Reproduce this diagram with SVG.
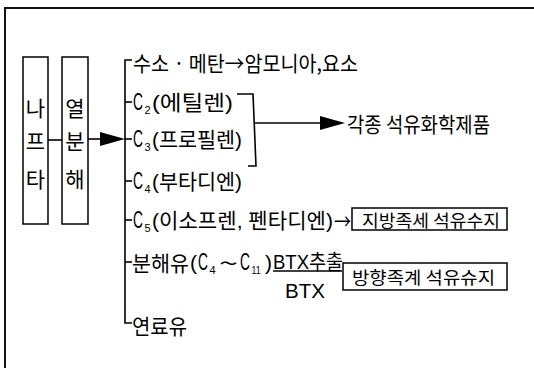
<svg xmlns="http://www.w3.org/2000/svg" width="534" height="368" viewBox="0 0 534 368">
<style>
.ln{stroke:#000;stroke-width:1.6;fill:none}
.fr{stroke:#111;stroke-width:2;fill:none}
.bx{stroke:#000;stroke-width:1.5;fill:#fff}
text{font-family:"Liberation Sans","Noto Sans CJK KR",sans-serif;fill:#000;dominant-baseline:central}
.k{font-family:"Noto Sans CJK KR",sans-serif}
.t{font-size:21px}
.cc{font-size:23px}
.s{font-size:17px}
.sub{font-size:11px}
.c{text-anchor:middle}
</style>
<rect width="534" height="368" fill="#fff"/>
<g id="frame">
<path class="fr" d="M5,368 V8 H534"/>
</g>
<g id="node-napta">
<rect class="bx" x="23" y="57" width="25" height="167"/>
<text class="t k c" x="35.5" y="107">나</text>
<text class="t k c" x="35.5" y="140">프</text>
<text class="t k c" x="35.5" y="178">타</text>
</g>
<g id="node-cracking">
<rect class="bx" x="62" y="57" width="26" height="167"/>
<text class="t k c" x="75" y="107">열</text>
<text class="t k c" x="75" y="140">분</text>
<text class="t k c" x="75" y="178">해</text>
</g>
<g id="connectors">
<line class="ln" x1="48" y1="140" x2="62" y2="140"/>
<line class="ln" x1="88" y1="139" x2="102" y2="139"/>
<path d="M100,132 L125,139 L100,146 Z" fill="#000"/>
<path class="ln" d="M132,60 H125 V323 H132"/>
<line class="ln" x1="125" y1="102" x2="132" y2="102"/>
<line class="ln" x1="125" y1="139" x2="132" y2="139"/>
<line class="ln" x1="125" y1="181" x2="132" y2="181"/>
<line class="ln" x1="125" y1="220" x2="132" y2="220"/>
<line class="ln" x1="125" y1="262" x2="132" y2="262"/>
<path class="ln" d="M237,94 H253 L256,166 H248"/>
<line class="ln" x1="255" y1="123" x2="322" y2="123"/>
<path d="M320,116 L345,123 L320,130 Z" fill="#000"/>
<line class="ln" x1="273" y1="271" x2="342" y2="271"/>
</g>
<g id="node-h2">
<text class="t k" x="133" y="62" textLength="225" lengthAdjust="spacingAndGlyphs">수소 · 메탄→암모니아,요소</text>
</g>
<g id="node-c2">
<text class="cc" transform="translate(133 102) scale(0.6 1)">C</text>
<text class="sub" x="144.5" y="110">2</text>
<text class="t" x="152" y="102" textLength="81" lengthAdjust="spacingAndGlyphs">(에틸렌)</text>
</g>
<g id="node-c3">
<text class="cc" transform="translate(133 139) scale(0.6 1)">C</text>
<text class="sub" x="144.5" y="147">3</text>
<text class="t" x="152" y="139" textLength="90" lengthAdjust="spacingAndGlyphs">(프로필렌)</text>
</g>
<g id="node-c4">
<text class="cc" transform="translate(133 181) scale(0.6 1)">C</text>
<text class="sub" x="144.5" y="189">4</text>
<text class="t" x="152" y="181" textLength="90" lengthAdjust="spacingAndGlyphs">(부타디엔)</text>
</g>
<g id="node-c5">
<text class="cc" transform="translate(133 220) scale(0.6 1)">C</text>
<text class="sub" x="144.5" y="228">5</text>
<text class="t" x="152" y="220" textLength="181" lengthAdjust="spacingAndGlyphs">(이소프렌, 펜타디엔)</text>
<text class="t k" x="334" y="220" textLength="17" lengthAdjust="spacingAndGlyphs">→</text>
</g>
<g id="node-cracked-oil">
<text class="t k" x="132" y="262" textLength="57" lengthAdjust="spacingAndGlyphs">분해유</text>
<text class="t" x="190" y="262">(</text>
<text class="cc" transform="translate(198 262) scale(0.6 1)">C</text>
<text class="sub" x="209.5" y="270">4</text>
<text class="t k" x="219" y="262" textLength="19" lengthAdjust="spacingAndGlyphs">~</text>
<text class="cc" transform="translate(240 262) scale(0.6 1)">C</text>
<text class="sub" transform="translate(251.5 270) scale(0.8 1)">11</text>
<text class="t" x="265" y="262">)</text>
<text class="t" x="273" y="261" textLength="70" lengthAdjust="spacingAndGlyphs">BTX추출</text>
<text class="t c" x="305" y="290" textLength="40" lengthAdjust="spacingAndGlyphs">BTX</text>
</g>
<g id="node-fuel">
<text class="t k" x="132" y="325" textLength="55" lengthAdjust="spacingAndGlyphs">연료유</text>
</g>
<g id="node-petrochem">
<text class="t k" x="347" y="123" textLength="143" lengthAdjust="spacingAndGlyphs">각종 석유화학제품</text>
</g>
<g id="node-aliphatic">
<rect class="bx" x="352" y="208" width="155" height="22"/>
<text class="s k" x="362" y="219" textLength="138" lengthAdjust="spacingAndGlyphs">지방족세 석유수지</text>
</g>
<g id="node-aromatic">
<rect class="bx" x="343" y="263" width="164" height="27"/>
<text class="s k" x="352" y="276" textLength="143" lengthAdjust="spacingAndGlyphs">방향족계 석유슈지</text>
</g>
</svg>
